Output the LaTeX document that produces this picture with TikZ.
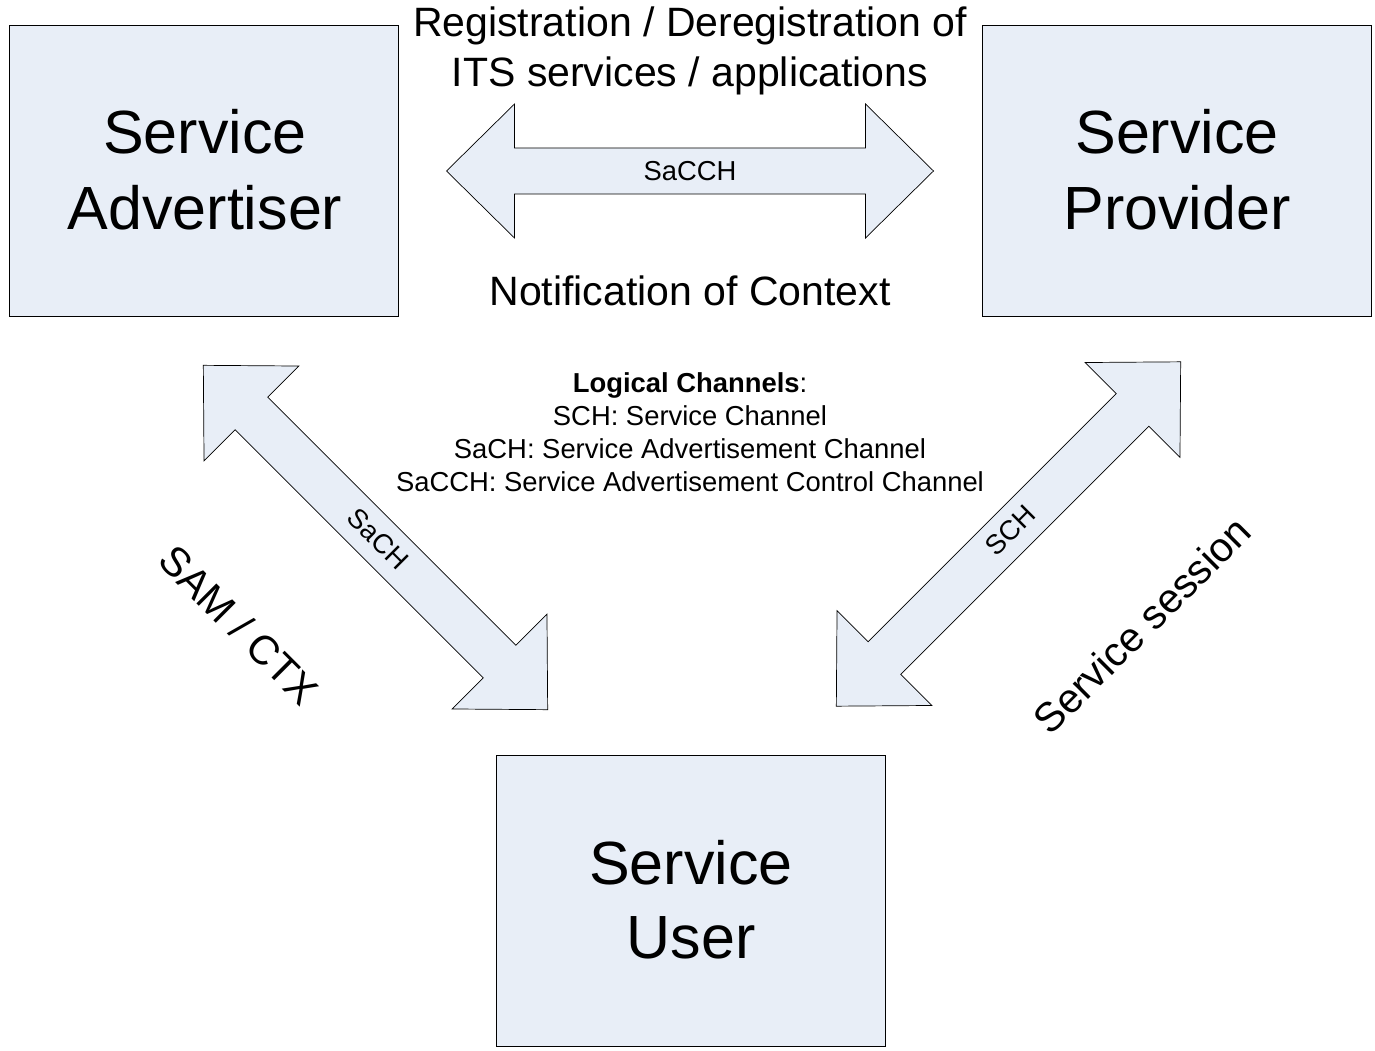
\documentclass[tikz,border=0pt]{standalone}
\usepackage{fontspec}
\setmainfont{Liberation Sans}
\definecolor{boxfill}{HTML}{E8EEF7}
\tikzset{
  block/.style={draw=black, line width=0.8pt, fill=boxfill, minimum width=389pt, minimum height=291pt, inner sep=0pt, align=center, font=\fontsize{61}{75}\selectfont},
  arrowshape/.style={draw=black, line width=0.7pt, fill=boxfill, line join=miter},
  bigtxt/.style={font=\fontsize{41}{49}\selectfont, inner sep=0pt},
  smalltxt/.style={font=\fontsize{27.4}{33}\selectfont, inner sep=0pt},
}
\newcommand{\dblarrowpath}{(-243.5,0) -- (-175.5,67) -- (-175.5,23) -- (175.5,23) -- (175.5,67) -- (243.5,0) -- (175.5,-67) -- (175.5,-23) -- (-175.5,-23) -- (-175.5,-67) -- cycle}
\begin{document}
\begin{tikzpicture}[x=1pt,y=-1pt]
\useasboundingbox (0,0) rectangle (1375,1051);
\fill[white] (0,0) rectangle (1375,1051);
% boxes
\node[block] (adv) at (203.5,171) {};
\node[block] (prov) at (1177,171) {};
\node[block] (user) at (691,900.5) {};
\node[font=\fontsize{61}{75}\selectfont, inner sep=0pt, anchor=base] (advA) at (205,154) {Service};
\node[font=\fontsize{61}{75}\selectfont, inner sep=0pt, anchor=base] (advB) at (205,229) {Advertiser};
\node[font=\fontsize{61}{75}\selectfont, inner sep=0pt, anchor=base] (provA) at (1177,154) {Service};
\node[font=\fontsize{61}{75}\selectfont, inner sep=0pt, anchor=base] (provB) at (1177,229) {Provider};
\node[font=\fontsize{61}{75}\selectfont, inner sep=0pt, anchor=base] (userA) at (691,884) {Service};
\node[font=\fontsize{61}{75}\selectfont, inner sep=0pt, anchor=base] (userB) at (691,958) {User};
% horizontal arrow
\begin{scope}[shift={(690,171)}]
  \draw[arrowshape] \dblarrowpath;
\end{scope}
\node[smalltxt, anchor=base] (sacch) at (690,181) {SaCCH};
% left diagonal arrow
\begin{scope}[shift={(375.5,537.5)}, rotate=-45]
  \draw[arrowshape] \dblarrowpath;
\end{scope}
\node[smalltxt, rotate=-45] (sach) at (378,539) {SaCH};
% right diagonal arrow
\begin{scope}[shift={(1008.5,534)}, rotate=45]
  \draw[arrowshape] \dblarrowpath;
\end{scope}
\node[smalltxt, rotate=45] (sch) at (1010,530) {SCH};
% labels
\node[bigtxt, anchor=base] (reg1) at (690,36.5) {Registration / Deregistration of};
\node[bigtxt, anchor=base] (reg2) at (690,86.5) {ITS services / applications};
\node[bigtxt, anchor=base] (notif) at (690,305.5) {Notification of Context};
\node[bigtxt, rotate=-45] (samctx) at (239,625) {SAM / CTX};
\node[bigtxt, rotate=45] (sess) at (1142,625) {Service session};
\node[smalltxt, anchor=base] (lc0) at (690,392) {\textbf{Logical Channels}:};
\node[smalltxt, anchor=base] (lc1) at (690,425) {SCH: Service Channel};
\node[smalltxt, anchor=base] (lc2) at (690,458) {SaCH: Service Advertisement Channel};
\node[smalltxt, anchor=base] (lc3) at (690,491) {SaCCH: Service Advertisement Control Channel};
\end{tikzpicture}
\end{document}
